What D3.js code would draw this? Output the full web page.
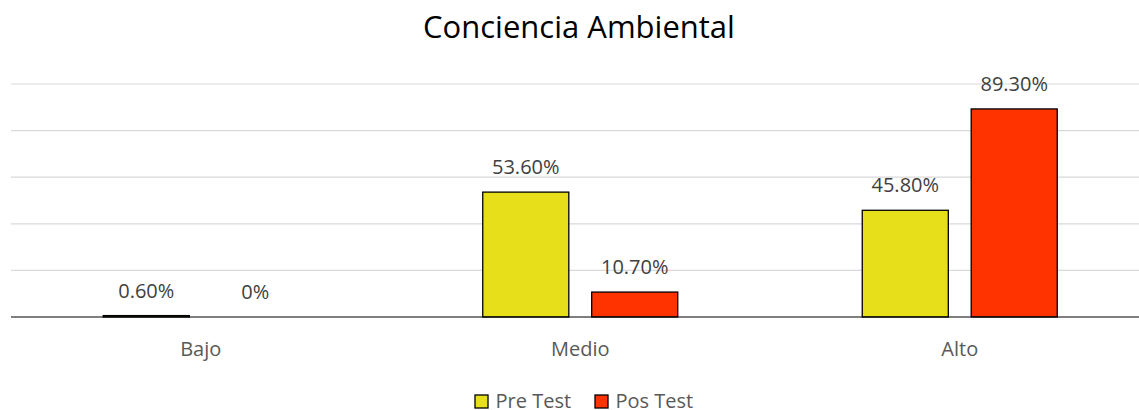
<!DOCTYPE html>
<html>
<head>
<meta charset="utf-8">
<script src="https://cdn.jsdelivr.net/npm/d3@7"></script>
<style>
  body { margin: 0; background: #fff; }
  text { font-family: "Open Sans", "Noto Sans", sans-serif; }
</style>
</head>
<body>
<div id="chart"></div>
<script>
// data
const categories = ["Bajo", "Medio", "Alto"];
const series = ["Pre Test", "Pos Test"];
const preTest = [0.6, 53.6, 45.8];
const posTest = [0, 10.7, 89.3];
const labels = [["0.60%", "53.60%", "45.80%"], ["0%", "10.70%", "89.30%"]];
const yTicks = [0, 20, 40, 60, 80, 100];
const colors = ["#E6DF19", "#FF3300"];

const W = 1139, H = 410;

const svg = d3.select("#chart").append("svg")
  .attr("width", W).attr("height", H);

// scales
const x = d3.scaleBand().domain(categories).range([11, 1149.5]).padding(0);
const xSub = d3.scaleBand().domain(series).range([0, 195]).paddingInner(0.21);
const offset = (x.bandwidth() - 195) / 2;
const y = d3.scaleLinear().domain([0, 100]).range([317, 84]);

// title
svg.append("text")
  .attr("x", 579).attr("y", 38)
  .attr("text-anchor", "middle")
  .attr("font-size", "31px")
  .attr("fill", "#000")
  .text("Conciencia Ambiental");

// gridlines
svg.append("g").selectAll("line")
  .data(yTicks.slice(1))
  .join("line")
  .attr("x1", 11).attr("x2", W)
  .attr("y1", d => y(d)).attr("y2", d => y(d))
  .attr("stroke", "#d9d9d9").attr("stroke-width", 1.2);

// bars
const rows = categories.map((c, i) => ({ cat: c, vals: [preTest[i], posTest[i]], labs: [labels[0][i], labels[1][i]] }));

const groups = svg.append("g").selectAll("g")
  .data(rows)
  .join("g")
  .attr("transform", d => `translate(${x(d.cat) + offset},0)`);

groups.selectAll("rect")
  .data(d => d.vals.map((v, j) => ({ s: series[j], v, j })).filter(e => e.v > 0))
  .join("rect")
  .attr("x", d => xSub(d.s))
  .attr("width", xSub.bandwidth())
  .attr("y", d => y(d.v))
  .attr("height", d => y(0) - y(d.v))
  .attr("fill", d => colors[d.j])
  .attr("stroke", "#000")
  .attr("stroke-width", 1.3);

groups.selectAll("text")
  .data(d => d.vals.map((v, j) => ({ s: series[j], v, lab: d.labs[j] })))
  .join("text")
  .attr("x", d => xSub(d.s) + xSub.bandwidth() / 2)
  .attr("y", d => y(d.v) - 18)
  .attr("text-anchor", "middle")
  .attr("font-size", "20px")
  .attr("fill", "#404040")
  .text(d => d.lab);

// x axis
svg.append("line")
  .attr("x1", 11).attr("x2", W)
  .attr("y1", y(0)).attr("y2", y(0))
  .attr("stroke", "#000").attr("stroke-width", 1.2);

svg.append("g").selectAll("text")
  .data(categories)
  .join("text")
  .attr("x", d => x(d) + x.bandwidth() / 2)
  .attr("y", 356)
  .attr("text-anchor", "middle")
  .attr("font-size", "20px")
  .attr("fill", "#595959")
  .text(d => d);

// legend
const legX = [475, 595];
const leg = svg.append("g").selectAll("g")
  .data(series)
  .join("g")
  .attr("transform", (d, i) => `translate(${legX[i]},395)`);
leg.append("rect")
  .attr("width", 13).attr("height", 13)
  .attr("fill", (d, i) => colors[i])
  .attr("stroke", "#000").attr("stroke-width", 1.3);
leg.append("text")
  .attr("x", 20.5).attr("y", 12.5)
  .attr("font-size", "20px")
  .attr("fill", "#595959")
  .text(d => d);
</script>
</body>
</html>
